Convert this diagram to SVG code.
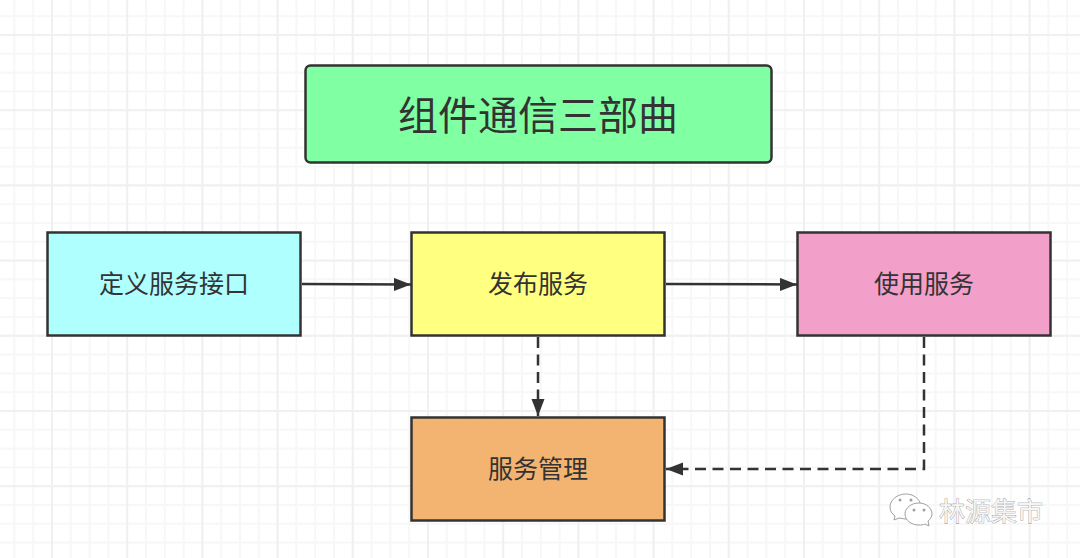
<svg xmlns="http://www.w3.org/2000/svg" width="1080" height="558" viewBox="0 0 1080 558">
<style>
.n{stroke:#333;stroke-width:2.500}
.t{font-family:"Noto Sans CJK SC","Liberation Sans",sans-serif;fill:#333;text-anchor:middle}
.c{fill:none;stroke:#333;stroke-width:2.500}
.d{stroke-dasharray:11 6.500}
.w{font-family:"Noto Sans CJK SC",sans-serif;font-size:26px;fill:#f4f4f4;stroke:#808080;stroke-width:.6;paint-order:stroke}
.i{fill:#fff;stroke:#a0a0a0;stroke-width:1}
.e{fill:#a0a0a0}
</style>
<defs>
<pattern id="minor" width="18.8" height="18.8" patternUnits="userSpaceOnUse" patternTransform="translate(13.4 15.2)">
<path d="M0 1H18.8M1 0V18.8" fill="none" stroke="#f7f7f7" stroke-width="2"/>
</pattern>
<pattern id="major" width="75.2" height="75.2" patternUnits="userSpaceOnUse" patternTransform="translate(51 34)">
<path d="M0 1H75.2M1 0V75.2" fill="none" stroke="#f0f0f0" stroke-width="2"/>
</pattern>
<marker id="a" markerUnits="userSpaceOnUse" markerWidth="18" markerHeight="14" refX="17" refY="6.500" orient="auto">
<path d="M0 0L17 6.500L0 13Z" fill="#333"/>
</marker>
</defs>
<rect width="1080" height="558" fill="#fff"/>
<rect width="1080" height="558" fill="url(#minor)"/>
<rect width="1080" height="558" fill="url(#major)"/>
<g id="connectors">
<path class="c" d="M302 284L411 284.500" marker-end="url(#a)"/>
<path class="c" d="M666 284L797 284.500" marker-end="url(#a)"/>
<path class="c d" d="M538 337V416" marker-end="url(#a)"/>
<path class="c d" d="M924 337V469H666" marker-end="url(#a)"/>
</g>
<g id="title"><rect class="n" x="305.500" y="65.500" width="466" height="97" rx="5" fill="#80ffa3"/><text class="t" x="538" y="130" font-size="40">组件通信三部曲</text></g>
<g id="define"><rect class="n" x="47.500" y="232.500" width="253" height="103" fill="#b0ffff"/><text class="t" x="174" y="292.500" font-size="25">定义服务接口</text></g>
<g id="publish"><rect class="n" x="411.500" y="232.500" width="253" height="103" fill="#ffff80"/><text class="t" x="538" y="292.500" font-size="25">发布服务</text></g>
<g id="use"><rect class="n" x="797.500" y="232.500" width="253" height="103" fill="#f29fc9"/><text class="t" x="924" y="292.500" font-size="25">使用服务</text></g>
<g id="manage"><rect class="n" x="411.500" y="417.500" width="253" height="103" fill="#f4b471"/><text class="t" x="538" y="477.500" font-size="25">服务管理</text></g>
<g id="watermark">
<path class="i" d="M906 494C897 494 890 500 890 507C890 511 892 514 895 516L894 520L899 518C901 518 903 519 905 519C912 519 918 514 921 505C919 498 913 494 906 494Z"/>
<path class="i" d="M919 503C911 503 905 508 905 514C905 520 911 525 919 525C921 525 923 525 925 524L929 526L928 521C930 519 932 517 932 514C932 508 926 503 919 503Z"/>
<circle class="e" cx="900" cy="500" r="1.500"/>
<circle class="e" cx="911" cy="500" r="1.500"/>
<circle class="e" cx="914" cy="510" r="1.500"/>
<circle class="e" cx="924" cy="510" r="1.500"/>
<text class="w" x="939" y="521">林源集市</text>
</g>
</svg>
